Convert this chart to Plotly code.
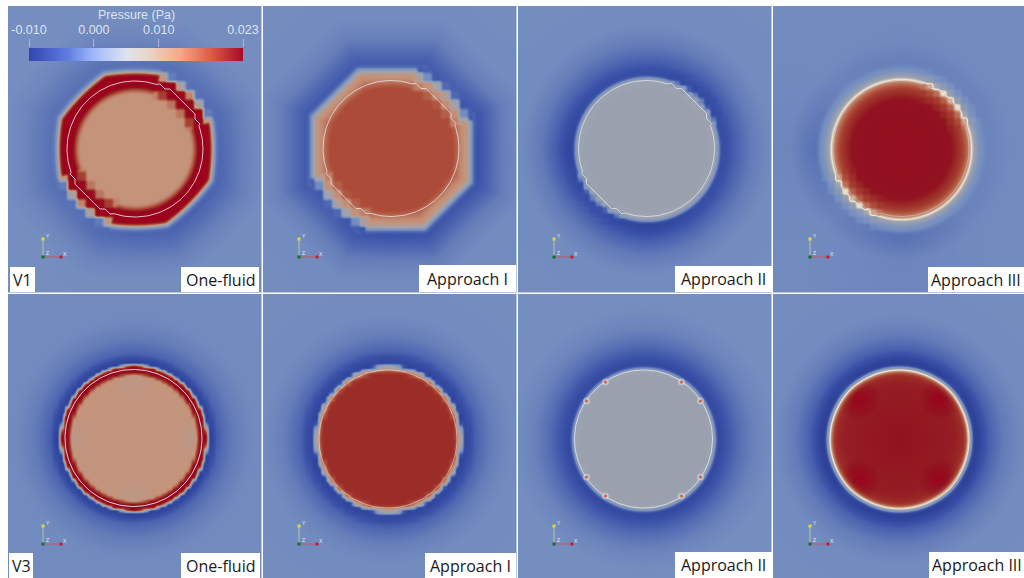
import numpy as np
import plotly.graph_objects as go

# ---------- values ----------
PRESSURE_TICKS = [-0.010, 0.000, 0.010, 0.023]
PRESSURE_TICK_LABELS = ["-0.010", "0.000", "0.010", "0.023"]
PRESSURE_TITLE = "Pressure (Pa)"
METHOD_LABELS = ["One-fluid", "Approach I", "Approach II", "Approach III"]
VERSION_LABELS = ["V1", "V3"]

# radial pressure profiles: distance from droplet centre / pressure
V1_ONE_FLUID_R = [0, 56, 60, 62, 74, 76, 78, 80, 84, 95, 110, 130, 300]
V1_ONE_FLUID_P = [0.0100, 0.0100, 0.0150, 0.0225, 0.0230, 0.0130, 0.0030, -0.0030, -0.0042, -0.0036, -0.0027, -0.0021, -0.0020]
V1_APPROACH1_R = [0, 62, 66, 70, 74, 77, 79, 81, 85, 95, 110, 130, 300]
V1_APPROACH1_P = [0.0150, 0.0150, 0.0130, 0.0105, 0.0100, 0.0060, 0.0020, -0.0035, -0.0055, -0.0046, -0.0030, -0.0022, -0.0020]
V1_APPROACH2_R = [0, 62, 67, 69, 71, 74, 80, 90, 105, 125, 300]
V1_APPROACH2_P = [0.0035, 0.0035, 0.0040, 0.0045, 0.0000, -0.0066, -0.0062, -0.0048, -0.0032, -0.0022, -0.0020]
V1_APPROACH3_R = [0, 50, 60, 66, 69, 71, 74, 78, 85, 95, 110, 300]
V1_APPROACH3_P = [0.0215, 0.0210, 0.0170, 0.0125, 0.0095, 0.0050, 0.0030, -0.0012, -0.0032, -0.0030, -0.0024, -0.0020]
V3_ONE_FLUID_R = [0, 60, 63, 65.5, 72, 73, 74, 78, 85, 100, 120, 300]
V3_ONE_FLUID_P = [0.0095, 0.0098, 0.0100, 0.0225, 0.0230, 0.0030, -0.0080, -0.0072, -0.0048, -0.0032, -0.0023, -0.0020]
V3_APPROACH1_R = [0, 66, 68, 70, 71.5, 72.5, 74, 80, 90, 105, 125, 300]
V3_APPROACH1_P = [0.0185, 0.0185, 0.0150, 0.0105, 0.0100, 0.0030, -0.0078, -0.0068, -0.0046, -0.0030, -0.0022, -0.0020]
V3_APPROACH2_R = [0, 65, 68, 69.5, 71, 74, 82, 95, 110, 130, 300]
V3_APPROACH2_P = [0.0035, 0.0035, 0.0040, 0.0050, -0.0020, -0.0072, -0.0060, -0.0042, -0.0028, -0.0021, -0.0020]
V3_APPROACH3_R = [0, 55, 64, 67, 68.5, 70, 71.5, 74, 78, 90, 105, 125, 300]
V3_APPROACH3_P = [0.0210, 0.0200, 0.0185, 0.0140, 0.0085, 0.0062, 0.0020, -0.0078, -0.0078, -0.0050, -0.0032, -0.0022, -0.0020]

# halo strength round the droplet: E, NE, N, NW, W, SW, S, SE
V1_ONE_FLUID_HALO = [1.2, 1.0, 0.9, 0.9, 0.9, 1.0, 1.3, 1.4]
V1_APPROACH1_HALO = [1.2, 1.0, 1.0, 1.0, 1.0, 1.0, 1.2, 1.1]
V1_APPROACH2_HALO = [1.0, 1.1, 1.0, 1.0, 1.2, 1.0, 1.2, 1.0]
V1_APPROACH3_HALO = [0.6, 0.7, 0.8, 0.7, 1.6, 0.8, 1.7, 0.7]
V3_UNIFORM_HALO = [1.0, 1.0, 1.0, 1.0, 1.0, 1.0, 1.0, 1.0]

# interface radius of the droplet per panel
INTERFACE_RADII = [68, 68, 68, 68, 68.5, 69, 69, 69]

# interior patches, offset from centre and pressure change
V3_ONE_FLUID_PATCH_X = [0, 0, 60, -60]
V3_ONE_FLUID_PATCH_Y = [60, -60, 0, 0]
V3_ONE_FLUID_PATCH_DP = [-0.0012, -0.0012, -0.0012, -0.0012]
V3_APPROACH3_PATCH_X = [42, -42, 42, -42]
V3_APPROACH3_PATCH_Y = [42, 42, -42, -42]
V3_APPROACH3_PATCH_DP = [0.0030, 0.0030, 0.0030, 0.0030]

# orange spurious-pressure spots in V3 Approach II
V3_APPROACH2_SPOT_X = [-38, 38, -57, 57, -57, 57, -38, 38]
V3_APPROACH2_SPOT_Y = [57, 57, 38, 38, -38, -38, -57, -57]

# ---------- styling ----------
COMMON_LOW = [(-0.0100, "rgb(30,45,130)"), (-0.0060, "rgb(58,82,168)"), (-0.0020, "rgb(118,143,192)"),
              (0.0030, "rgb(150,158,175)"), (0.0042, "rgb(158,164,176)")]
COMMON_HIGH = [(0.0100, "rgb(197,147,122)"), (0.0150, "rgb(172,75,55)"), (0.0185, "rgb(155,45,40)"),
               (0.0210, "rgb(145,18,32)"), (0.0230, "rgb(158,0,28)")]
RIM_STOP = [(0.0070, "rgb(236,230,210)")]
ZMIN, ZMAX = -0.010, 0.023


def to_scale(stops):
    return [[(v - ZMIN) / (ZMAX - ZMIN), c] for v, c in stops]


plain_scale = to_scale(COMMON_LOW + COMMON_HIGH)
rim_scale = to_scale(COMMON_LOW + RIM_STOP + COMMON_HIGH)
bar_scale = [[0, "rgb(50,70,175)"], [0.18, "rgb(95,125,225)"], [0.30, "rgb(160,185,250)"],
             [0.45, "rgb(222,226,240)"], [0.55, "rgb(232,215,200)"], [0.70, "rgb(245,170,140)"],
             [0.85, "rgb(220,90,70)"], [1, "rgb(165,8,38)"]]

W, H = 1024, 578
TEXT_FONT = "Open Sans"

panels = [
    dict(box=(8, 261.5, 6, 292.5), c=(135, 149), o=(43, 257), R=V1_ONE_FLUID_R, P=V1_ONE_FLUID_P, halo=V1_ONE_FLUID_HALO, oct=0.6, cell=9, stair=True, scale=plain_scale, line=0.8),
    dict(box=(263, 516.5, 6, 292.5), c=(391, 148.5), o=(299, 257), R=V1_APPROACH1_R, P=V1_APPROACH1_P, halo=V1_APPROACH1_HALO, oct=1.0, cell=9, stair=True, scale=plain_scale, line=0.7),
    dict(box=(518, 771.5, 6, 292.5), c=(646.5, 148.5), o=(554, 257), R=V1_APPROACH2_R, P=V1_APPROACH2_P, halo=V1_APPROACH2_HALO, oct=0.0, cell=6, stair=True, scale=rim_scale, line=0.65),
    dict(box=(773, 1024, 6, 292.5), c=(901, 148.5), o=(810, 257), R=V1_APPROACH3_R, P=V1_APPROACH3_P, halo=V1_APPROACH3_HALO, oct=0.0, cell=7, stair=True, scale=rim_scale, line=0.35),
    dict(box=(8, 261.5, 294, 578), c=(133.5, 438), o=(43, 544), R=V3_ONE_FLUID_R, P=V3_ONE_FLUID_P, halo=V3_UNIFORM_HALO, oct=0.0, cell=3, stair=False, scale=plain_scale, line=0.85,
         patches=(V3_ONE_FLUID_PATCH_X, V3_ONE_FLUID_PATCH_Y, V3_ONE_FLUID_PATCH_DP)),
    dict(box=(263, 516.5, 294, 578), c=(388, 439), o=(299, 544), R=V3_APPROACH1_R, P=V3_APPROACH1_P, halo=V3_UNIFORM_HALO, oct=0.0, cell=4, stair=False, scale=plain_scale, line=0.5),
    dict(box=(518, 771.5, 294, 578), c=(643.5, 439), o=(554, 544), R=V3_APPROACH2_R, P=V3_APPROACH2_P, halo=V3_UNIFORM_HALO, oct=0.0, cell=0, stair=False, scale=rim_scale, line=0.7),
    dict(box=(773, 1024, 294, 578), c=(899, 439), o=(810, 544), R=V3_APPROACH3_R, P=V3_APPROACH3_P, halo=V3_UNIFORM_HALO, oct=0.0, cell=0, stair=False, scale=rim_scale, line=0.4,
         patches=(V3_APPROACH3_PATCH_X, V3_APPROACH3_PATCH_Y, V3_APPROACH3_PATCH_DP)),
]
HALO_ANGLES = [0, 45, 90, 135, 180, 225, 270, 315]
BG_P = -0.0020


def soften(z):
    k = np.array([1, 2, 3, 2, 1], float)
    k /= k.sum()
    pad = np.pad(z, 2, mode="edge")
    a = np.apply_along_axis(lambda m: np.convolve(m, k, mode="same"), 0, pad)
    b = np.apply_along_axis(lambda m: np.convolve(m, k, mode="same"), 1, a)
    return b[2:-2, 2:-2]


def in_stairs(theta):
    return ((theta > 20) & (theta < 72)) | ((theta > 200) & (theta < 252))


def field(p):
    l, r, t, b = p["box"]
    cx, cy = p["c"]
    xs = np.arange(np.floor(l), np.ceil(r) + 1) - cx
    ys = np.arange(np.floor(cy - b), np.ceil(cy - t) + 1)
    X, Y = np.meshgrid(xs, ys)
    rad = np.hypot(X, Y)
    theta = np.degrees(np.arctan2(Y, X)) % 360
    oct_d = np.maximum.reduce([np.abs(X), np.abs(Y), (np.abs(X) + np.abs(Y)) / np.sqrt(2)])
    t_out = np.clip((rad - 60) / 15, 0, 1)
    d = rad + p["oct"] * t_out * (oct_d - rad)
    if p["cell"]:
        c = p["cell"]
        snapped = np.hypot(np.round(X / c) * c, np.round(Y / c) * c)
        mask = rad < 88
        if p["stair"]:
            mask &= in_stairs(theta) & (rad > 50)
        d = np.where(mask, snapped, d)
    z = np.interp(d, p["R"], p["P"])
    gain = np.interp(theta, HALO_ANGLES, p["halo"], period=360)
    z = np.where(z < BG_P, BG_P + (z - BG_P) * gain, z)
    if "patches" in p:
        for px, py, dp in zip(*p["patches"]):
            z = z + np.interp(np.hypot(X - px, Y - py), [0, 22], [dp, 0])
    return xs, ys, soften(np.clip(z, ZMIN, ZMAX))


def outline(p, radius):
    ang = np.radians(np.arange(0, 361, 2))
    x, y = radius * np.cos(ang), radius * np.sin(ang)
    if p["stair"]:
        deg = np.degrees(ang) % 360
        s = in_stairs(deg)
        x = np.where(s, np.round(x / 5) * 5, x)
        y = np.where(s, np.round(y / 5) * 5, y)
    return x, y


fig = go.Figure()
layout = {}
for i, p in enumerate(panels):
    n = i + 1
    sx = "" if n == 1 else str(n)
    l, r, t, b = p["box"]
    cx, cy = p["c"]
    layout[f"xaxis{sx}"] = dict(domain=[l / W, r / W], range=[l - cx, r - cx], visible=False, fixedrange=True, automargin=False)
    layout[f"yaxis{sx}"] = dict(domain=[1 - b / H, 1 - t / H], range=[cy - b, cy - t], visible=False, fixedrange=True, automargin=False)
    xs, ys, z = field(p)
    ax = dict(xaxis=f"x{sx}", yaxis=f"y{sx}")
    fig.add_trace(go.Heatmap(x=xs, y=ys, z=z, zmin=ZMIN, zmax=ZMAX, colorscale=p["scale"],
                             showscale=False, zsmooth="best", hoverinfo="skip", **ax))
    lx, ly = outline(p, INTERFACE_RADII[i])
    fig.add_trace(go.Scatter(x=lx, y=ly, mode="lines", line=dict(color=f"rgba(238,242,248,{p['line']})", width=1),
                             hoverinfo="skip", showlegend=False, **ax))
    if i == 6:
        fig.add_trace(go.Scatter(x=V3_APPROACH2_SPOT_X, y=V3_APPROACH2_SPOT_Y, mode="markers",
                                 marker=dict(size=7, color="rgba(225,232,240,0.45)"), hoverinfo="skip", showlegend=False, **ax))
        fig.add_trace(go.Scatter(x=V3_APPROACH2_SPOT_X, y=V3_APPROACH2_SPOT_Y, mode="markers",
                                 marker=dict(size=3, color="rgb(222,95,55)"), hoverinfo="skip", showlegend=False, **ax))
    # orientation triad
    ox, oy = p["o"][0] - cx, cy - p["o"][1]
    fig.add_trace(go.Scatter(x=[ox, ox], y=[oy, oy + 18], mode="lines", line=dict(color="rgb(190,195,160)", width=1),
                             hoverinfo="skip", showlegend=False, **ax))
    fig.add_trace(go.Scatter(x=[ox, ox + 18], y=[oy, oy], mode="lines", line=dict(color="rgb(190,90,100)", width=1),
                             hoverinfo="skip", showlegend=False, **ax))
    fig.add_trace(go.Scatter(x=[ox, ox, ox + 18], y=[oy, oy + 18, oy], mode="markers",
                             marker=dict(size=3, symbol="square", color=["rgb(15,110,40)", "rgb(225,215,60)", "rgb(200,30,40)"],
                                         line=dict(width=0)),
                             hoverinfo="skip", showlegend=False, **ax))
    fig.add_trace(go.Scatter(x=[ox + 3, ox + 3, ox + 20], y=[oy + 3, oy + 20, oy + 2], mode="text", text=["Z", "Y", "X"],
                             textposition="middle right", textfont=dict(size=5, color="rgb(230,235,245)", family="Liberation Sans"),
                             hoverinfo="skip", showlegend=False, **ax))

# colour bar
bar_n = len(panels) + 1
bar_x = np.linspace(ZMIN, ZMAX, 200)
fig.add_trace(go.Heatmap(x=bar_x, y=[0, 1], z=[bar_x, bar_x], zmin=ZMIN, zmax=ZMAX, colorscale=bar_scale, showscale=False,
                         zsmooth="best", hoverinfo="skip", xaxis=f"x{bar_n}", yaxis=f"y{bar_n}"))
layout[f"xaxis{bar_n}"] = dict(domain=[29 / W, 243 / W], range=[ZMIN, ZMAX], side="top", anchor=f"y{bar_n}", automargin=False,
                               tickmode="array", tickvals=PRESSURE_TICKS, ticktext=PRESSURE_TICK_LABELS,
                               ticks="outside", ticklen=8, tickwidth=1, tickcolor="rgb(170,185,215)",
                               tickfont=dict(size=12.5, color="rgb(222,228,240)", family="Liberation Sans"),
                               showgrid=False, zeroline=False, showline=False, fixedrange=True)
layout[f"yaxis{bar_n}"] = dict(domain=[1 - 61 / H, 1 - 48 / H], range=[0, 1], visible=False, fixedrange=True, anchor=f"x{bar_n}", automargin=False)

# white label boxes
boxes = [
    (10, 35, 267, 292, VERSION_LABELS[0]), (181, 259, 267, 292, METHOD_LABELS[0]),
    (419, 516, 265, 292, METHOD_LABELS[1]), (675, 772, 266, 292, METHOD_LABELS[2]), (928, 1024, 267, 292, METHOD_LABELS[3]),
    (9, 33, 553, 578, VERSION_LABELS[1]), (181, 260, 553, 578, METHOD_LABELS[0]),
    (425, 516, 553, 578, METHOD_LABELS[1]), (675, 772, 552, 578, METHOD_LABELS[2]), (929, 1024, 552, 578, METHOD_LABELS[3]),
]
shapes, annotations = [], []
for x0, x1, y0, y1, label in boxes:
    shapes.append(dict(type="rect", xref="paper", yref="paper", x0=x0 / W, x1=x1 / W, y0=1 - y1 / H, y1=1 - y0 / H,
                       fillcolor="white", line=dict(width=0), layer="above"))
    annotations.append(dict(xref="paper", yref="paper", x=(x0 + x1) / 2 / W, y=1 - (y0 + y1) / 2 / H, text=label, showarrow=False,
                            xanchor="center", yanchor="middle", font=dict(size=16, color="rgb(25,25,25)", family=TEXT_FONT)))
annotations.append(dict(xref="paper", yref="paper", x=136 / W, y=1 - 15 / H, text=PRESSURE_TITLE, showarrow=False,
                        xanchor="center", yanchor="middle", font=dict(size=12.5, color="rgb(222,228,240)", family="Liberation Sans")))

fig.update_layout(width=W, height=H, margin=dict(l=0, r=0, t=0, b=0, autoexpand=False), paper_bgcolor="white", plot_bgcolor="white",
                  showlegend=False, shapes=shapes, annotations=annotations, **layout)
fig.write_html("out.html", config=dict(displayModeBar=False),
               post_script="document.body.style.margin='0';document.body.style.overflow='hidden';")
